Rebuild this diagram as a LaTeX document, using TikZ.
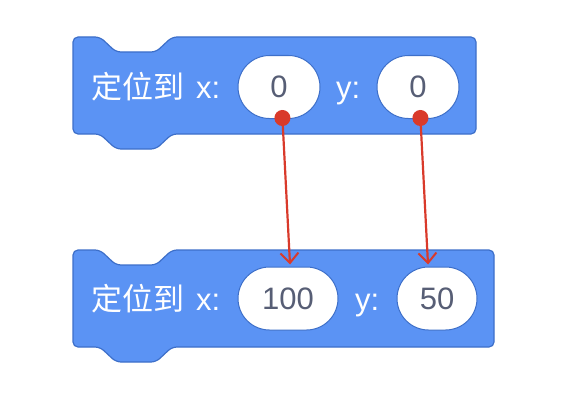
\documentclass[tikz,border=0pt]{standalone}
\usepackage{fontspec}
\setmainfont{Liberation Sans}
\newfontfamily\cjk{Noto Sans CJK SC}
\usetikzlibrary{arrows.meta,shapes.misc}

\definecolor{motion}{HTML}{5B93F4}
\definecolor{motionedge}{HTML}{3D6FC9}
\definecolor{slottext}{HTML}{575E75}
\definecolor{pen}{HTML}{D93A2B}

\tikzset{
    blockbody/.style={fill=motion, draw=motionedge, line width=1.2pt, rounded corners=5pt},
    blocklabel/.style={anchor=base west, text=white, font=\fontsize{31}{33}\selectfont, inner sep=0pt},
    slot/.style={rounded rectangle, fill=white, draw=motionedge, line width=1pt,
        minimum height=63pt, text=slottext, font=\fontsize{31}{33}\selectfont, inner sep=0pt},
    link/.style={pen, line width=2.2pt, {Circle[length=16pt]}-{Straight Barb[length=10pt,width=18pt,line width=2pt]}}
}

\begin{document}
\begin{tikzpicture}[x=1pt, y=-1pt]
    \useasboundingbox (0,0) rectangle (572,404);

    % the two blocks
    \foreach \t/\b/\r in {37/134/476, 250/347/494} {
        \path[blockbody] (73,\t) -- (100,\t) -- (116,\t+15) -- (156,\t+15) -- (172,\t)
            -- (\r,\t) -- (\r,\b) -- (172,\b) -- (156,\b+15) -- (116,\b+15) -- (100,\b)
            -- (73,\b) -- cycle;
    }

    % block before
    \node[blocklabel] (go1) at (91,98) {{\cjk 定位到}\hspace{12pt}x:};
    \node[slot, minimum width=82pt] (x1) at (279,87) {0};
    \node[blocklabel] (ylab1) at (336,98) {y:};
    \node[slot, minimum width=82pt] (y1) at (418,87) {0};

    % block after
    \node[blocklabel] (go2) at (91,310) {{\cjk 定位到}\hspace{12pt}x:};
    \node[slot, minimum width=100pt] (x2) at (288,298.5) {100};
    \node[blocklabel] (ylab2) at (355,310) {y:};
    \node[slot, minimum width=80pt] (y2) at (437,298.5) {50};

    % value changes
    \draw[link] ([xshift=3pt,yshift=9pt]x1.south) -- ([xshift=2pt,yshift=2pt]x2.north);
    \draw[link] ([xshift=2pt,yshift=9pt]y1.south) -- ([xshift=-9pt,yshift=2pt]y2.north);
\end{tikzpicture}
\end{document}
